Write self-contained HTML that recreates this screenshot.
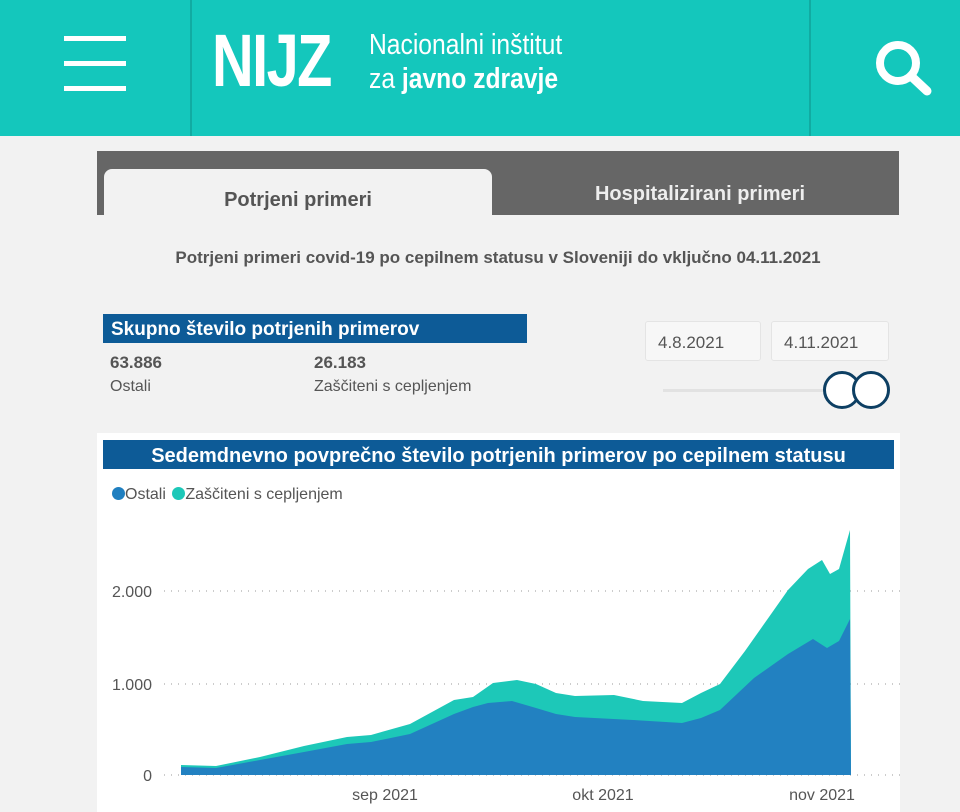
<!DOCTYPE html><html><head><meta charset="utf-8"><style>
body{margin:0;width:960px;height:812px;overflow:hidden;background:#f2f2f2;font-family:"Liberation Sans",sans-serif;position:relative}
.a{position:absolute}
</style></head><body>
<div class="a" style="left:0;top:0;width:960px;height:136px;background:#14c7bc"></div>
<div class="a" style="left:190px;top:0;width:2px;height:136px;background:#11aba2"></div>
<div class="a" style="left:809px;top:0;width:2px;height:136px;background:#11aba2"></div>
<div class="a" style="left:64px;top:36px;width:62px;height:5px;background:#fff"></div>
<div class="a" style="left:64px;top:61px;width:62px;height:5px;background:#fff"></div>
<div class="a" style="left:64px;top:86px;width:62px;height:5px;background:#fff"></div>
<div class="a" style="left:212px;top:18px;color:#fff;font-size:74px;letter-spacing:-2px;transform:scaleX(0.78);transform-origin:left;font-weight:bold">NIJZ</div>
<div class="a" style="left:369px;top:28px;color:#fff;font-size:29px;line-height:34px;transform:scaleX(0.85);transform-origin:left">Nacionalni inštitut<br>za <b>javno zdravje</b></div>
<svg class="a" style="left:870px;top:36px" width="70" height="60"><circle cx="28" cy="27" r="18" fill="none" stroke="#fff" stroke-width="8"/><line x1="41" y1="40" x2="57" y2="55" stroke="#fff" stroke-width="9" stroke-linecap="round"/></svg>
<div class="a" style="left:97px;top:151px;width:802px;height:64px;background:#666"></div>
<div class="a" style="left:104px;top:169px;width:388px;height:50px;background:#f2f2f2;border-radius:8px 8px 0 0;text-align:center;line-height:62px;font-size:20px;font-weight:bold;color:#555">Potrjeni primeri</div>
<div class="a" style="left:510px;top:183px;width:380px;text-align:center;font-size:20px;font-weight:bold;color:#eee">Hospitalizirani primeri</div>
<div class="a" style="left:0;top:248px;width:996px;text-align:center;font-size:17px;font-weight:bold;color:#555">Potrjeni primeri covid-19 po cepilnem statusu v Sloveniji do vključno 04.11.2021</div>
<div class="a" style="left:103px;top:314px;width:424px;height:29px;background:#0d5b97;color:#fff;font-size:19px;font-weight:bold;line-height:32px;padding-left:8px;box-sizing:border-box">Skupno število potrjenih primerov</div>
<div class="a" style="left:110px;top:353px;font-size:17px;font-weight:bold;color:#555">63.886</div>
<div class="a" style="left:110px;top:378px;font-size:16px;color:#555">Ostali</div>
<div class="a" style="left:314px;top:353px;font-size:17px;font-weight:bold;color:#555">26.183</div>
<div class="a" style="left:314px;top:378px;font-size:16px;color:#555">Zaščiteni s cepljenjem</div>
<div class="a" style="left:645px;top:321px;width:116px;height:40px;background:#f7f7f7;border:1px solid #e4e4e4;border-radius:3px;font-size:17px;color:#555;line-height:42px;padding-left:12px;box-sizing:border-box">4.8.2021</div>
<div class="a" style="left:771px;top:321px;width:118px;height:40px;background:#f7f7f7;border:1px solid #e4e4e4;border-radius:3px;font-size:17px;color:#555;line-height:42px;padding-left:12px;box-sizing:border-box">4.11.2021</div>
<div class="a" style="left:663px;top:389px;width:170px;height:3px;background:#e2e2e2"></div>
<div class="a" style="left:823px;top:371px;width:32px;height:32px;border:3px solid #0d3f63;border-radius:50%;background:#fff"></div>
<div class="a" style="left:852px;top:371px;width:32px;height:32px;border:3px solid #0d3f63;border-radius:50%;background:#fff"></div>
<div class="a" style="left:97px;top:433px;width:803px;height:379px;background:#fff"></div>
<div class="a" style="left:103px;top:440px;width:791px;height:29px;background:#0d5b97;color:#fff;font-size:20px;font-weight:bold;line-height:32px;text-align:center">Sedemdnevno povprečno število potrjenih primerov po cepilnem statusu</div>
<div class="a" style="left:112px;top:486px;font-size:16px;color:#555"><span style="display:inline-block;width:13px;height:13px;border-radius:50%;background:#1f7fc0;vertical-align:-1px"></span>Ostali <span style="display:inline-block;width:13px;height:13px;border-radius:50%;background:#1dc8b8;vertical-align:-1px;margin-left:2px"></span>Zaščiteni s cepljenjem</div>
<svg class="a" style="left:0;top:0" width="960" height="812">
<g stroke="#bbb" stroke-dasharray="1,6" stroke-width="1.5"><line x1="164" y1="591" x2="900" y2="591"/><line x1="164" y1="684" x2="900" y2="684"/><line x1="164" y1="775" x2="900" y2="775"/></g>
<g font-family="Liberation Sans" font-size="16" fill="#555"><text x="152" y="597" text-anchor="end">2.000</text><text x="152" y="690" text-anchor="end">1.000</text><text x="152" y="781" text-anchor="end">0</text>
<text x="385" y="800" text-anchor="middle">sep 2021</text><text x="603" y="800" text-anchor="middle">okt 2021</text><text x="822" y="800" text-anchor="middle">nov 2021</text></g>
<path fill="#1dc8b8" d="M181,775 L181,765 L216,766 L260,757 L304,746 L347,737 L371,735 L410,724 L454,700 L473,697 L493,683 L517,680 L536,684 L556,693 L575,696 L614,695 L643,701 L682,703 L701,693 L720,684 L745,651 L769,617 L788,590 L808,569 L822,560 L830,574 L839,569 L850,530 L851,775 Z"/>
<path fill="#2281c1" d="M181,775 L181,767 L216,768 L260,760 L304,752 L347,744 L371,742 L410,734 L454,714 L473,707 L488,703 L512,701 L536,708 L556,714 L575,717 L633,720 L682,723 L701,718 L720,710 L754,678 L788,654 L813,639 L827,648 L839,641 L850,619 L851,775 Z"/>
</svg>
</body></html>
